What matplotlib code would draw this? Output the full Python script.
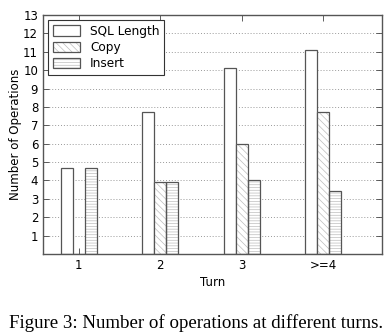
import matplotlib
matplotlib.use("Agg")
import matplotlib.pyplot as plt
import matplotlib.patches as mpatches
from matplotlib.legend_handler import HandlerTuple
import numpy as np

categories = ["1", "2", "3", ">=4"]
sql_length = [4.7, 7.7, 10.1, 11.1]
copy_ops = [0.0, 3.9, 6.0, 7.7]
insert_ops = [4.7, 3.9, 4.0, 3.4]
series_names = ["SQL Length", "Copy", "Insert"]
yticks = list(range(1, 14))

plt.rcParams['font.family'] = ['DejaVu Sans']
plt.rcParams['hatch.linewidth'] = 0.5

fig = plt.figure(figsize=(3.92, 3.36), dpi=100)
ax = fig.add_axes([43/392, 1-254/336, 339/392, 239/336])

x = np.arange(len(categories))
w = 0.147
edge = '#555555'
hc = '#bdbdbd'
h_copy = '\\\\\\\\\\'
h_ins = '------'

ax.bar(x - w, sql_length, w, color='white', edgecolor=edge, linewidth=0.9, zorder=2)
ax.bar(x, copy_ops, w, color='white', edgecolor=hc, linewidth=0, hatch=h_copy, zorder=2)
ax.bar(x, copy_ops, w, color='none', edgecolor=edge, linewidth=0.9, zorder=3)
ax.bar(x + w, insert_ops, w, color='white', edgecolor=hc, linewidth=0, hatch=h_ins, zorder=2)
ax.bar(x + w, insert_ops, w, color='none', edgecolor=edge, linewidth=0.9, zorder=3)

ax.set_ylim(0, 13)
ax.set_xlim(-0.44, 3.72)
ax.set_yticks(yticks)
ax.set_xticks(x)
ax.set_xticklabels(categories)
ax.tick_params(direction='in', top=True, right=True, labelsize=8.5, colors='#444444', length=4, width=0.6)
ax.tick_params(axis='both', labelcolor='black')
ax.yaxis.grid(True, linestyle=(0, (1, 2)), color='#999999', linewidth=0.7, zorder=0)
ax.set_axisbelow(True)
for s in ax.spines.values():
    s.set_color('#555555')
    s.set_linewidth(1.0)

ax.set_xlabel("Turn", fontsize=8.5, labelpad=3)
ax.set_ylabel("Number of Operations", fontsize=8.5, labelpad=1)

handles = [
    mpatches.Patch(facecolor='white', edgecolor=edge, linewidth=0.9),
    (mpatches.Patch(facecolor='white', edgecolor=hc, linewidth=0, hatch=h_copy),
     mpatches.Patch(facecolor='none', edgecolor=edge, linewidth=0.9)),
    (mpatches.Patch(facecolor='white', edgecolor=hc, linewidth=0, hatch=h_ins),
     mpatches.Patch(facecolor='none', edgecolor=edge, linewidth=0.9)),
]
leg = ax.legend(handles, series_names, loc='upper left', fontsize=8.7, fancybox=False, framealpha=1,
                edgecolor='#333333', borderaxespad=0.4, handlelength=2.3, handleheight=0.9,
                labelspacing=0.25, handler_map={tuple: HandlerTuple(ndivide=1)})
leg.get_frame().set_linewidth(0.8)

fig.text(0.5, 1-323/336, "Figure 3: Number of operations at different turns.", ha='center', va='center',
         fontsize=13.6, family=['Liberation Serif'])

fig.savefig("out.png", dpi=100)
